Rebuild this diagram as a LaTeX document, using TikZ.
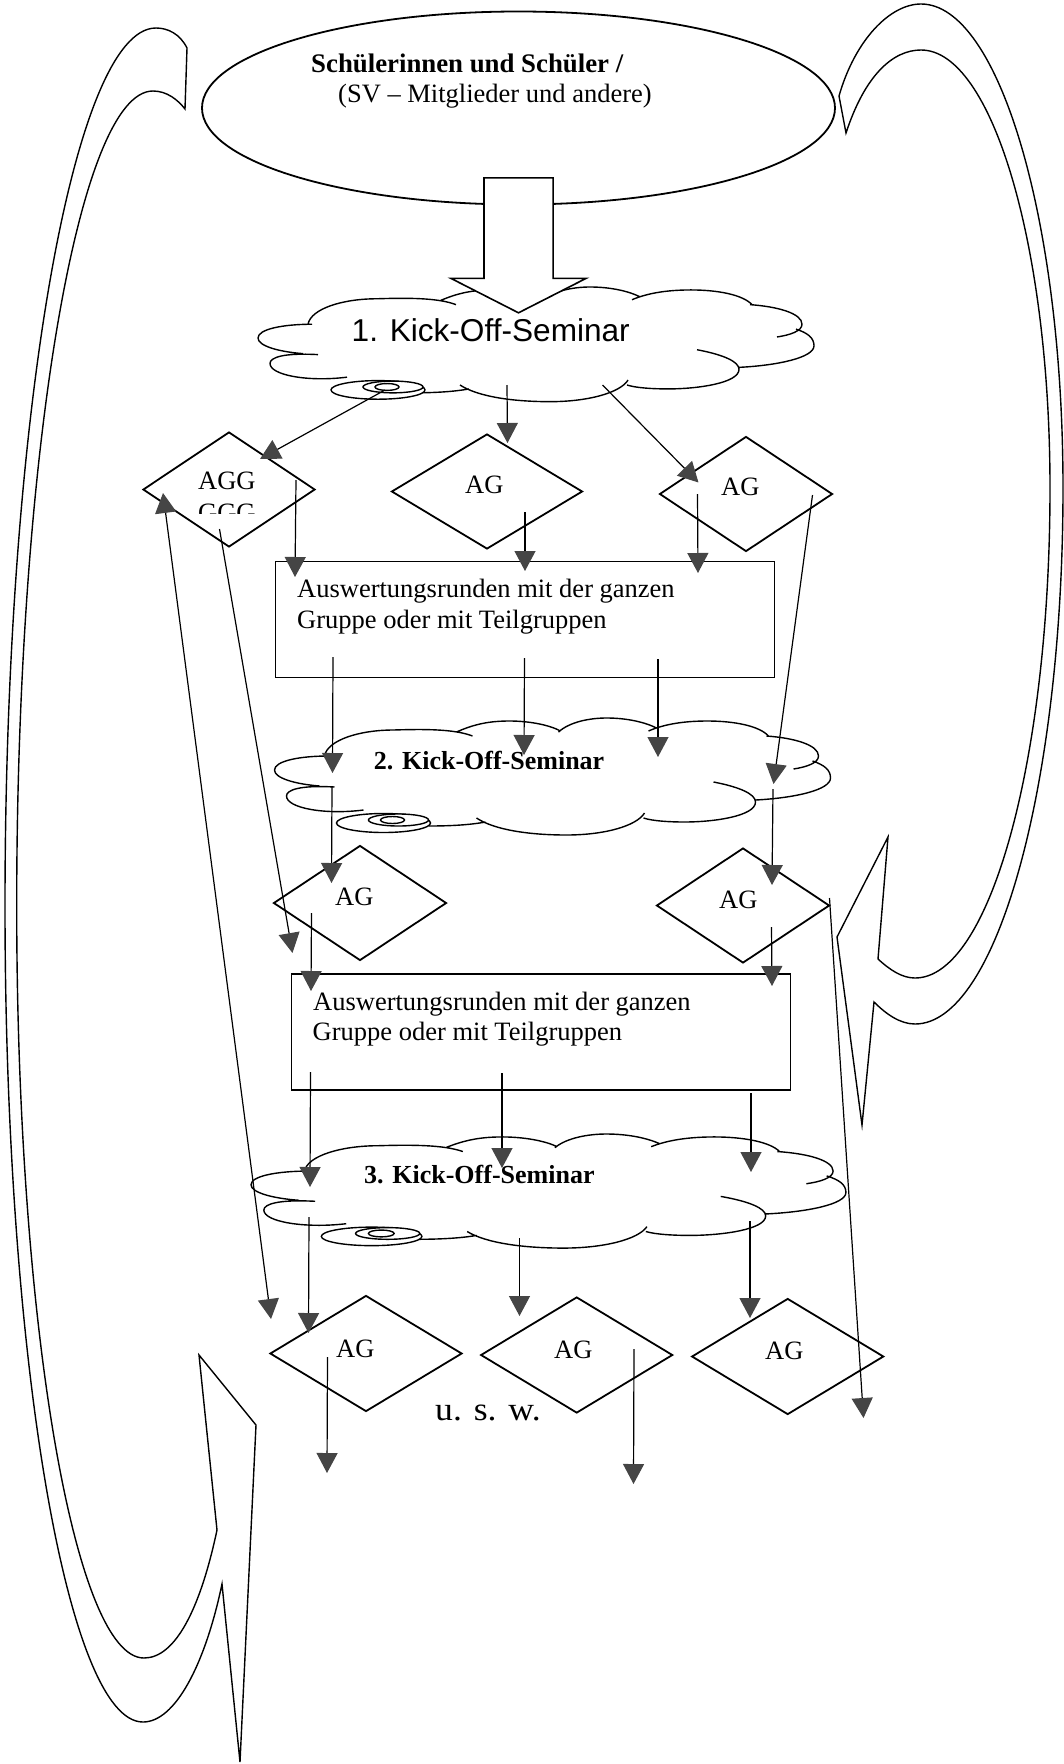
\documentclass[tikz,border=0pt]{standalone}
\usepackage{fontspec}
\setmainfont{Liberation Serif}
\newfontfamily\kicksans{Liberation Sans}
\usetikzlibrary{arrows.meta,shapes.geometric,shapes.arrows}
\definecolor{tipgray}{gray}{0.27}

\tikzset{
  kickcloud/.pic={
    \draw[thinline]
      (50,38) .. controls (53,22) and (85,12) .. (119,12) .. controls (150,11) and (180,11) .. (198,18)
      (182,14) .. controls (200,6) and (215,3) .. (235,3) .. controls (255,3) and (275,7) .. (286,13)
      (284,14) .. controls (295,4) and (315,0) .. (332,0) .. controls (352,0) and (370,4) .. (382,10)
      (374,13) .. controls (390,6) and (410,3) .. (433,3) .. controls (460,3) and (485,8) .. (494,18)
      (492,18) .. controls (520,20) and (544,27) .. (544,38) .. controls (544,45) and (532,49) .. (519,51)
      (538,43) .. controls (550,47) and (556,52) .. (556,60) .. controls (556,72) and (520,80) .. (481,82)
      (439,64) .. controls (465,69) and (481,76) .. (481,84) .. controls (481,98) and (440,104) .. (410,104) .. controls (395,104) and (378,103) .. (369,100)
      (370,95) .. controls (362,108) and (330,117) .. (292,117) .. controls (255,117) and (220,112) .. (202,100)
      (211,104) .. controls (195,107) and (175,108) .. (154,108)
      (89,92) .. controls (50,97) and (12,90) .. (12,78) .. controls (12,72) and (25,67) .. (60,69)
      (45,68) .. controls (20,66) and (0,60) .. (0,52) .. controls (0,43) and (25,38) .. (54,38);
  },
  kickdisc/.pic={
    \draw[thinline, fill=white] (109,105) ellipse (47 and 9.5);
    \draw[thinline, fill=white] (124,102) ellipse (30 and 6);
    \draw[thinline, fill=white] (118,102) ellipse (12 and 3.5);
  }
}

\begin{document}
\begin{tikzpicture}[
  x=1pt, y=-1pt,
  thinline/.style={line width=1.4pt},
  txt/.style={anchor=base west, inner sep=0pt, font=\fontsize{26.5}{32}\selectfont},
  boldtxt/.style={txt, font=\fontsize{26.8}{32}\selectfont\bfseries},
  kicktxt/.style={txt, font=\fontsize{26}{32}\selectfont\bfseries},
  dia/.style={diamond, draw, line width=1.8pt, inner sep=0pt},
  ag/.style={dia, minimum width=173pt, minimum height=115pt},
  agwide/.style={dia, minimum width=192pt, minimum height=116pt},
  box/.style={draw, line width=1.8pt, inner sep=0pt, minimum width=499pt, minimum height=116pt},
  arr/.style={->, >={Triangle[length=20pt, width=21pt, color=tipgray]}, line width=1.2pt}
]
\useasboundingbox (0,0) rectangle (1064,1764);

% big curved returns
\draw[thinline] (187,48) .. controls (180,34) and (168,28) .. (156,28)
  .. controls (72.6,28) and (5,421) .. (5,906) .. controls (5,1357) and (67,1722) .. (143,1722)
  .. controls (175,1722) and (205,1665) .. (222,1584) -- (240,1762) -- (256,1425) -- (199,1355) -- (217,1530)
  .. controls (200,1610) and (175,1658) .. (144,1658)
  .. controls (74,1658) and (16.7,1321) .. (16.7,906) .. controls (16.7,456) and (78,91) .. (153,91)
  .. controls (167,91) and (178,100) .. (185,109) -- cycle;
\draw[thinline] (839,96) .. controls (855,40) and (890,4) .. (921,4)
  .. controls (999,4) and (1063,221) .. (1063,488) .. controls (1063,784) and (997,1024) .. (915,1024)
  .. controls (900,1024) and (886,1014) .. (874,1002) -- (862,1125) -- (837,937) -- (888,837) -- (878,959)
  .. controls (890,970) and (902,978) .. (915,978)
  .. controls (990,978) and (1050,759) .. (1050,488) .. controls (1050,246) and (992,50) .. (921,50)
  .. controls (893,50) and (865,75) .. (846,133) -- cycle;

% top
\node[ellipse, draw, line width=1.8pt, inner sep=0pt, minimum width=633pt, minimum height=193pt] (sv) at (518.5,108) {};
\node[boldtxt] (svtitle) at (311,72) {Schülerinnen und Schüler /};
\node[txt] (svsub) at (338,102) {(SV – Mitglieder und andere)};

\pic[yscale=0.98] at (258,287) {kickcloud};
\pic[yscale=0.98] at (269,287) {kickdisc};
\node[txt, font=\fontsize{31.6}{36}\selectfont\kicksans] (kick1) at (351.5,341) {1. Kick-Off-Seminar};

\node[single arrow, draw, fill=white, line width=1.6pt, rotate=-90, inner xsep=0pt, inner ysep=33.75pt, minimum height=135pt,
  single arrow head extend=33pt, single arrow head indent=0pt, single arrow tip angle=126] (bigarrow) at (518.5,236.5) {};

% first row
\node[dia, minimum width=172pt, minimum height=115pt] (ag1) at (229,489.5) {};
\node[dia, minimum width=191pt, minimum height=115pt] (ag2) at (487,491.5) {};
\node[ag] (ag3) at (746,494) {};
\node[txt] (ag1a) at (198,489) {AGG};
\begin{scope}
  \clip (190,495) rectangle (265,513);
  \node[txt] (ag1b) at (198,521) {GGG};
\end{scope}
\node[txt] (ag2t) at (465,493) {AG};
\node[txt] (ag3t) at (721,495) {AG};

\node[box] (rund1) at (525,619.5) {};
\node[txt] (rund1a) at (297,597) {Auswertungsrunden mit der ganzen};
\node[txt] (rund1b) at (297,628) {Gruppe oder mit Teilgruppen};

% second seminar
\pic at (274.5,718) {kickcloud};
\pic at (274.5,718) {kickdisc};
\node[kicktxt] (kick2) at (373.7,769) {2. Kick-Off-Seminar};
\node[ag] (ag4) at (360,903) {};
\node[ag] (ag5) at (743,905.5) {};
\node[txt] (ag4t) at (335,905) {AG};
\node[txt] (ag5t) at (719,908) {AG};

\node[box] (rund2) at (541,1032) {};
\node[txt] (rund2a) at (313,1010) {Auswertungsrunden mit der ganzen};
\node[txt] (rund2b) at (312.5,1040) {Gruppe oder mit Teilgruppen};

% third seminar
\pic[xscale=1.07, yscale=0.975] at (251,1134) {kickcloud};
\pic[xscale=1.07, yscale=0.975] at (255,1134) {kickdisc};
\node[kicktxt] (kick3) at (364,1183) {3. Kick-Off-Seminar};
\node[agwide] (ag6) at (366,1353.5) {};
\node[agwide] (ag7) at (576.7,1355) {};
\node[agwide] (ag8) at (787.7,1356.5) {};
\node[txt] (ag6t) at (336,1357) {AG};
\node[txt] (ag7t) at (554,1358) {AG};
\node[txt] (ag8t) at (765,1359) {AG};
\node[txt, font=\fontsize{33}{36}\selectfont, xscale=1.08] (usw) at (435,1420) {u. s. w.};

% arrows, free ends
\coordinate (a1s) at (385,390); \coordinate (a1e) at (260,459);
\draw[arr] (a1s) -- (a1e);
\coordinate (a2s) at (507,385); \coordinate (a2e) at (507.5,443);
\draw[arr] (a2s) -- (a2e);
\coordinate (a3s) at (602.5,385); \coordinate (a3e) at (698.5,482.5);
\draw[arr] (a3s) -- (a3e);

\coordinate (b1s) at (296,480); \coordinate (b1e) at (295,577);
\draw[arr] (b1s) -- (b1e);
\coordinate (b2s) at (525,512); \coordinate (b2e) at (525,571);
\draw[arr] (b2s) -- (b2e);
\coordinate (b3s) at (697.5,494); \coordinate (b3e) at (698,573);
\draw[arr] (b3s) -- (b3e);
\coordinate (b4s) at (812.5,495); \coordinate (b4e) at (773.5,784);
\draw[arr] (b4s) -- (b4e);
\coordinate (b5s) at (219.5,529); \coordinate (b5e) at (292.5,953);
\draw[arr] (b5s) -- (b5e);
\coordinate (b6s) at (163,493); \coordinate (b6e) at (271,1319);
\draw[arr, <->] (b6s) -- (b6e);

\coordinate (c1s) at (333,657); \coordinate (c1e) at (332.5,773);
\draw[arr] (c1s) -- (c1e);
\coordinate (c2s) at (524.5,658); \coordinate (c2e) at (524,755);
\draw[arr] (c2s) -- (c2e);
\coordinate (c3s) at (658,659); \coordinate (c3e) at (658,757);
\draw[arr] (c3s) -- (c3e);

\coordinate (d1s) at (332,787); \coordinate (d1e) at (331.5,883);
\draw[arr] (d1s) -- (d1e);
\coordinate (d2s) at (773,789); \coordinate (d2e) at (772,885);
\draw[arr] (d2s) -- (d2e);

\coordinate (e1s) at (311.5,913); \coordinate (e1e) at (311,991);
\draw[arr] (e1s) -- (e1e);
\coordinate (e2s) at (771.5,927); \coordinate (e2e) at (772,986);
\draw[arr] (e2s) -- (e2e);
\coordinate (e3s) at (829.5,898); \coordinate (e3e) at (863.5,1418);
\draw[arr] (e3s) -- (e3e);

\coordinate (f1s) at (310.5,1072); \coordinate (f1e) at (310,1187);
\draw[arr] (f1s) -- (f1e);
\coordinate (f2s) at (502,1073); \coordinate (f2e) at (502,1168);
\draw[arr] (f2s) -- (f2e);
\coordinate (f3s) at (751,1093); \coordinate (f3e) at (751,1172);
\draw[arr] (f3s) -- (f3e);

\coordinate (g1s) at (309,1217); \coordinate (g1e) at (308.5,1333);
\draw[arr] (g1s) -- (g1e);
\coordinate (g2s) at (519.5,1238); \coordinate (g2e) at (519.5,1316);
\draw[arr] (g2s) -- (g2e);
\coordinate (g3s) at (750,1221); \coordinate (g3e) at (750,1318);
\draw[arr] (g3s) -- (g3e);

\coordinate (h1s) at (327.5,1357); \coordinate (h1e) at (327,1473);
\draw[arr] (h1s) -- (h1e);
\coordinate (h2s) at (634,1349); \coordinate (h2e) at (633.5,1484);
\draw[arr] (h2s) -- (h2e);

\end{tikzpicture}
\end{document}
